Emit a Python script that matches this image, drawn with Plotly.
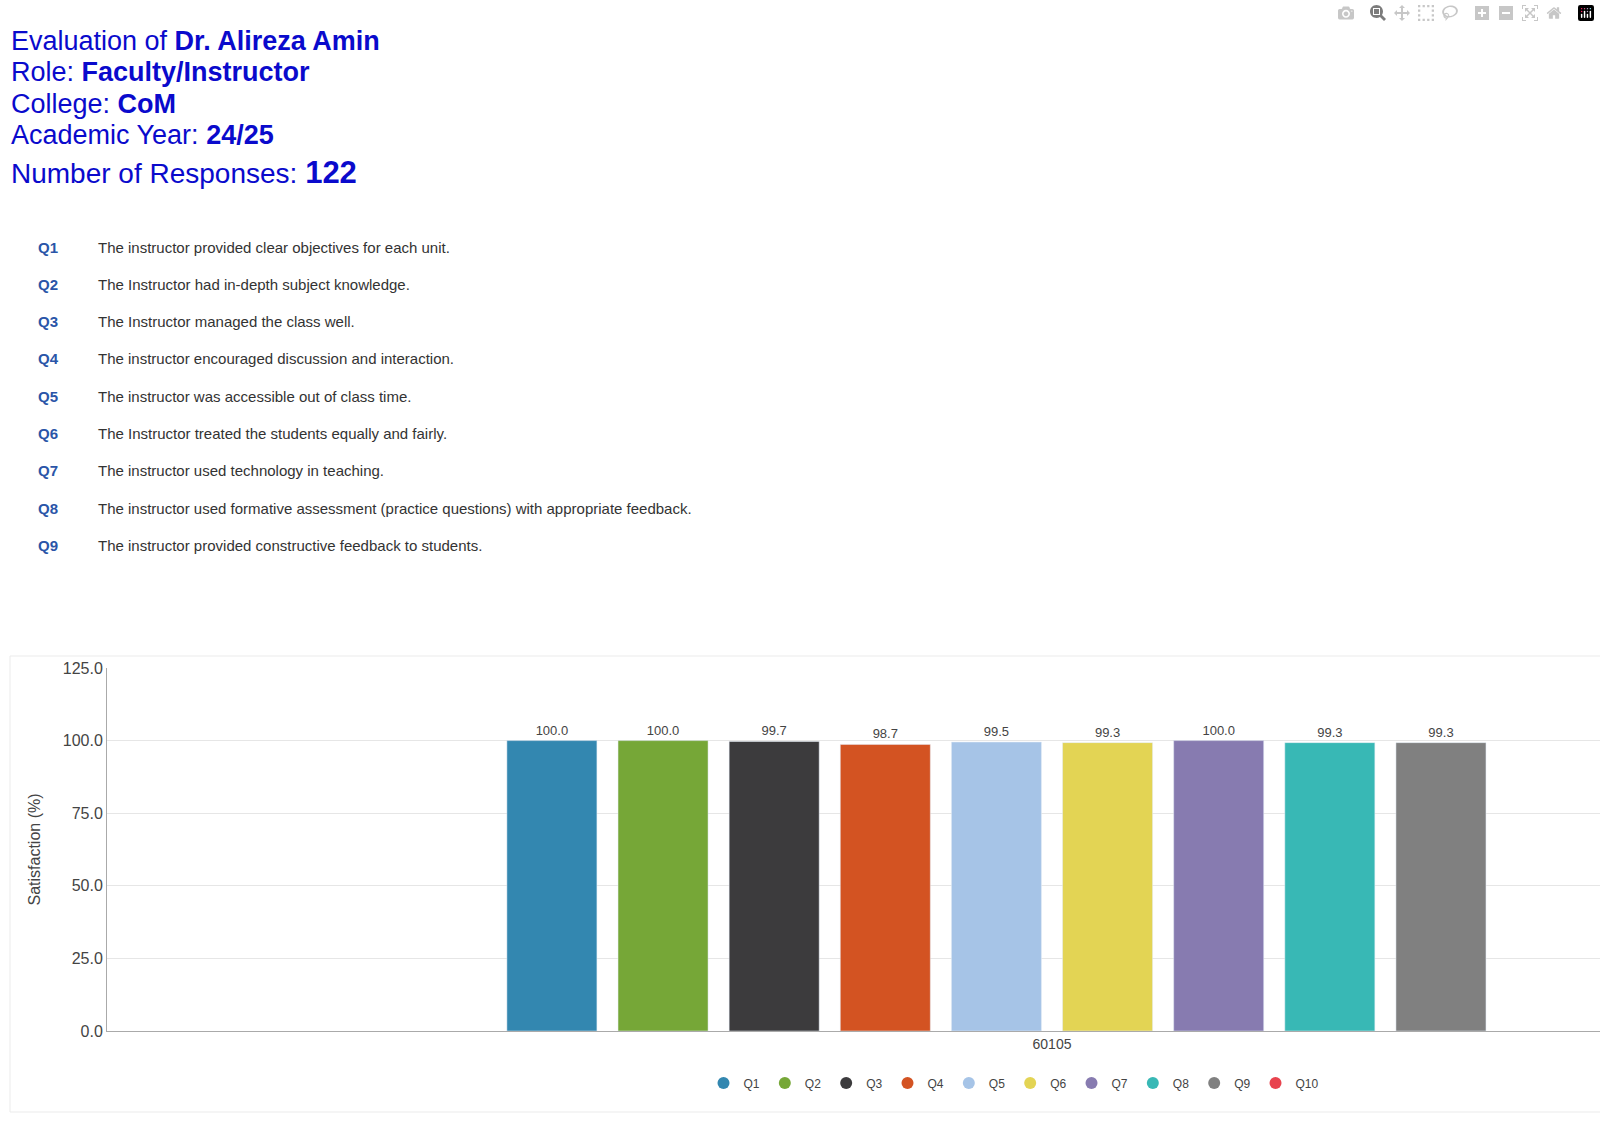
import plotly.graph_objects as go

series = ["Q1","Q2","Q3","Q4","Q5","Q6","Q7","Q8","Q9","Q10"]
values = [100.0,100.0,99.7,98.7,99.5,99.3,100.0,99.3,99.3,None]
colors = ["#3387b0","#76a737","#3c3b3d","#d35322","#a6c4e7","#e3d454","#877bb0","#38b8b5","#808080","#e8434e"]
category = ["60105"]
questions = [
    "The instructor provided clear objectives for each unit.",
    "The Instructor had in-depth subject knowledge.",
    "The Instructor managed the class well.",
    "The instructor encouraged discussion and interaction.",
    "The instructor was accessible out of class time.",
    "The Instructor treated the students equally and fairly.",
    "The instructor used technology in teaching.",
    "The instructor used formative assessment (practice questions) with appropriate feedback.",
    "The instructor provided constructive feedback to students.",
]
header = [
    ("Evaluation of ", "Dr. Alireza Amin"),
    ("Role: ", "Faculty/Instructor"),
    ("College: ", "CoM"),
    ("Academic Year: ", "24/25"),
]
responses = 122

W, H = 1600, 1140
PL, PR, PT, PB = 107, 1600, 668, 1031
def px(x): return (x - PL) / (PR - PL)
def py(y): return (PB - y) / (PB - PT)

fig = go.Figure()
for s, v, c in zip(series, values, colors):
    fig.add_trace(go.Bar(x=category, y=[v], name=s, marker_color=c, showlegend=False,
                         text=[f"{v:.1f}" if v is not None else ""], textposition="outside",
                         textfont=dict(size=13, color="#444"), cliponaxis=False))
for s, c in zip(series, colors):
    fig.add_trace(go.Scatter(x=[None], y=[None], mode="markers", name=s,
                             marker=dict(symbol="circle", size=12, color=c)))

ann = []
BLUE = "#0a0acc"
ys = [41, 72, 104, 135]
for (a, b), y in zip(header, ys):
    ann.append(dict(x=px(9), y=py(y), xref="paper", yref="paper", xanchor="left", yanchor="middle",
                    showarrow=False, text=f"{a}<b>{b}</b>",
                    font=dict(family="Liberation Sans, Arial", size=27, color=BLUE)))
ann.append(dict(x=px(9), y=py(173), xref="paper", yref="paper", xanchor="left", yanchor="middle",
                showarrow=False, text=f"Number of Responses: <b><span style='font-size:31px'>{responses}</span></b>",
                font=dict(family="Liberation Sans, Arial", size=28, color=BLUE)))
for i, q in enumerate(questions):
    y = 247 + i * 37.3
    ann.append(dict(x=px(36), y=py(y), xref="paper", yref="paper", xanchor="left", yanchor="middle",
                    showarrow=False, text=f"<b>Q{i+1}</b>",
                    font=dict(family="Liberation Sans, Arial", size=15, color="#2a55a8")))
    ann.append(dict(x=px(96), y=py(y), xref="paper", yref="paper", xanchor="left", yanchor="middle",
                    showarrow=False, text=q,
                    font=dict(family="Liberation Sans, Arial", size=15, color="#333")))

fig.update_layout(
    width=W, height=H,
    margin=dict(l=PL, r=W-PR, t=PT, b=H-PB),
    paper_bgcolor="white", plot_bgcolor="white",
    barmode="group", bargap=0.412, bargroupgap=0.19,
    font=dict(family="Liberation Sans, Arial", color="#444"),
    annotations=ann,
    shapes=[dict(type="rect", xref="paper", yref="paper", x0=px(10), x1=px(1700), y0=py(1112), y1=py(656),
                 line=dict(color="#ebebeb", width=1), layer="below")],
    legend=dict(orientation="h", x=px(1014), xanchor="center", y=py(1083), yanchor="middle",
                font=dict(size=12, color="#444"), itemwidth=30),
    xaxis=dict(range=[-0.5, -0.5 + (PR - PL) / 1890], showline=True, linecolor="#aaa",
               tickfont=dict(size=14, color="#444"), ticks=""),
    yaxis=dict(range=[0, 125], dtick=25, tickformat=".1f", showgrid=True, gridcolor="#e6e6e6",
               showline=True, linecolor="#aaa", zeroline=False, tickfont=dict(size=16, color="#444"),
               title=dict(text="Satisfaction (%)", font=dict(size=16, color="#444"), standoff=18)),
)
fig.write_html("out.html", post_script="document.body.style.margin='0';document.body.style.overflow='hidden';")
